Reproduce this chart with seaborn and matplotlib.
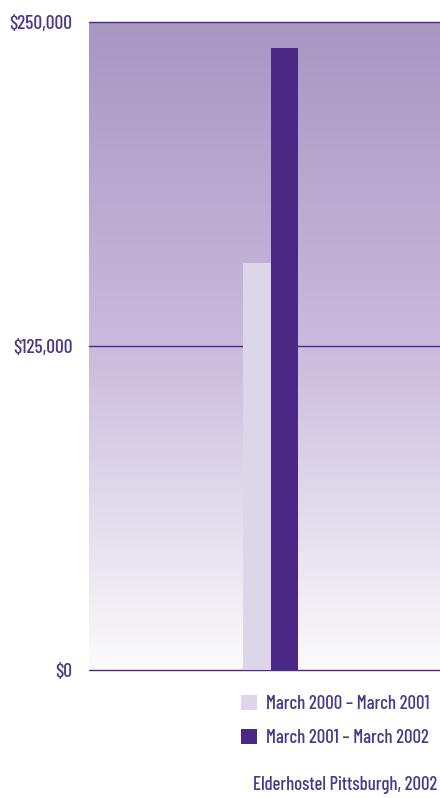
import numpy as np
import pandas as pd
import matplotlib.pyplot as plt
import seaborn as sns
from matplotlib.colors import LinearSegmentedColormap

periods = ['March 2000 – March 2001', 'March 2001 – March 2002']
amounts = [157000, 240000]
tick_values = [0, 125000, 250000]
tick_labels = ['$0', '$125,000', '$250,000']
source = 'Elderhostel Pittsburgh, 2002'

purple = '#4b2a85'
text_col = '#4a3889'
bar_colors = ['#ddd6e9', '#4b2885']

df = pd.DataFrame({'group': [''] * 2, 'period': periods, 'amount': amounts})

sns.set_style('white')
plt.rcParams['font.family'] = ['Barlow Condensed', 'DejaVu Sans']
plt.rcParams['font.weight'] = 'medium'

fig = plt.figure(figsize=(4.4, 7.98), dpi=100)
ax = fig.add_axes([89 / 440, 128 / 798, 351 / 440, 648 / 798])

# gradient background
cmap = LinearSegmentedColormap.from_list('bg', [(0, '#fbfbfb'), (0.5, '#c9bbdc'), (1, '#a697c3')])
grad = np.linspace(0, 1, 256).reshape(-1, 1)
xl = (-2.64, 2.46)
ax.imshow(grad, aspect='auto', cmap=cmap, origin='lower',
          extent=[xl[0], xl[1], 0, 250000], zorder=0)

sns.barplot(data=df, x='group', y='amount', hue='period', palette=bar_colors,
            width=0.8, saturation=1, linewidth=0, ax=ax, zorder=3, legend=True)

for v in tick_values:
    ax.axhline(v, color=purple, lw=1, zorder=2, clip_on=False)

ax.set_xlim(*xl)
ax.set_ylim(0, 250000)
ax.set_yticks(tick_values)
ax.set_yticklabels(tick_labels, color=text_col, fontsize=14)
ax.tick_params(axis='y', length=0, pad=12)
ax.set_xticks([])
ax.set_xlabel('')
ax.set_ylabel('')
for s in ax.spines.values():
    s.set_visible(False)

handles, labels = ax.get_legend_handles_labels()
ax.get_legend().remove()
fig.legend(handles, labels, loc='upper left', bbox_to_anchor=(241 / 440, 1 - 695 / 798),
           frameon=False, fontsize=13.5, labelcolor=text_col, handlelength=0.85,
           handleheight=0.85, handletextpad=0.48, labelspacing=0.85,
           borderpad=0, borderaxespad=0)

fig.text(437 / 440, 1 - 785 / 798, source, ha='right', va='center',
         fontsize=13.5, color=text_col)

fig.savefig('out.png', dpi=100)
